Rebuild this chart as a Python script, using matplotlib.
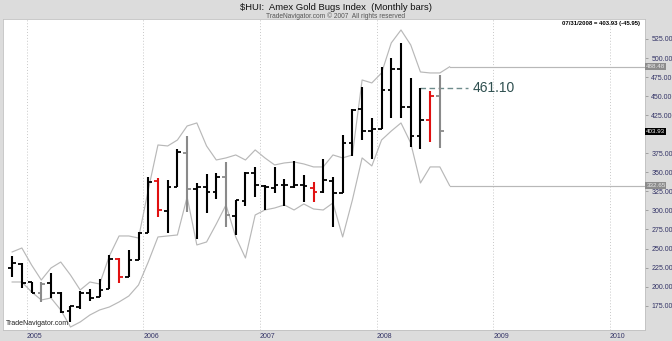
import matplotlib
matplotlib.use('Agg')
import matplotlib.pyplot as plt
import matplotlib.transforms as mtransforms
import numpy as np

# monthly OHLC, Nov 2004 .. Jul 2008
opens = [224.5, 229.7, 206.1, 192.0, 205.2, 192.1, 168.0, 173.7, 191.3, 186.8, 196.5, 235.9, 212.3, 235.0,
         270.0, 339.0, 299.7, 330.4, 375.0, 327.8, 331.2, 324.6, 344.3, 292.7, 312.8, 349.5, 332.1, 329.1,
         333.4, 331.2, 333.4, 329.1, 324.6, 339.0, 322.5, 388.9, 432.7, 404.6, 406.5, 458.1, 485.2, 436.1,
         397.7, 418.7, 449.88]
highs = [240.2, 231.0, 206.1, 206.5, 218.3, 193.4, 174.6, 194.7, 196.5, 209.6, 241.5, 237.2, 248.1, 272.1,
         344.3, 342.2, 340.0, 380.6, 397.7, 336.4, 347.8, 349.5, 364.0, 313.7, 350.8, 356.6, 333.4, 357.4,
         340.9, 364.9, 346.5, 337.7, 367.1, 343.5, 399.0, 433.1, 461.6, 420.9, 488.6, 499.7, 520.1, 473.4,
         461.10, 457.1, 477.7]
lows = [212.7, 198.2, 191.7, 180.2, 185.1, 165.0, 154.0, 170.7, 181.6, 186.8, 196.5, 205.2, 212.3, 235.0,
        270.0, 291.0, 270.8, 330.4, 298.4, 262.1, 297.0, 314.6, 277.9, 267.8, 305.8, 318.0, 300.6, 322.5,
        305.8, 329.1, 311.5, 311.5, 323.3, 277.9, 322.5, 371.5, 392.4, 367.1, 406.5, 420.9, 420.9, 383.7,
        380.2, 390.2, 381.6]
closes = [231.0, 204.8, 191.7, 204.0, 192.1, 167.1, 174.6, 192.1, 185.1, 195.6, 235.9, 212.3, 235.0, 270.8,
          337.7, 300.6, 331.2, 376.3, 327.8, 331.2, 324.6, 344.3, 294.0, 313.7, 349.5, 333.4, 331.2, 333.4,
          333.4, 333.4, 332.1, 324.6, 340.0, 322.5, 388.9, 431.8, 404.6, 406.5, 458.1, 485.2, 436.1, 397.7,
          418.7, 449.88, 403.93]
bar_colors = ['k'] * len(closes)
for i in (3, 18, 22, 44):
    bar_colors[i] = '#8a8a8a'
for i in (11, 15, 31, 43):
    bar_colors[i] = '#e01010'

# envelope, one point more than the bars (projected month)
upper = [245.5, 250.7, 228.4, 208.7, 224.5, 232.3, 215.3, 195.6, 206.1, 203.5, 240.2, 266.5, 266.5, 263.8,
         326.8, 385.9, 384.6, 392.4, 410.8, 414.8, 384.6, 366.2, 368.9, 372.8, 366.2, 379.4, 368.9, 359.7,
         362.3, 363.6, 361.0, 357.1, 357.1, 372.8, 368.9, 372.8, 471.2, 467.3, 480.4, 519.8, 536.8, 517.2,
         481.7, 480.4, 480.4, 488.48]
lower = [206.1, 206.1, 193.0, 182.5, 185.1, 169.4, 147.0, 153.6, 162.8, 169.4, 173.3, 179.9, 187.7, 202.2,
         232.3, 265.2, 266.5, 267.8, 317.6, 254.7, 258.6, 282.2, 307.2, 265.2, 237.6, 294.0, 300.6, 303.2,
         307.2, 300.6, 308.5, 301.9, 300.6, 309.8, 265.2, 313.7, 368.9, 358.4, 392.4, 404.2, 414.8, 388.5,
         336.0, 357.1, 357.1, 332.65]

years = ['2005', '2006', '2007', '2008', '2009', '2010']
price_ticks = np.arange(175, 526, 25)
marked_level = 461.10

plt.rcParams['font.family'] = ['Liberation Sans', 'DejaVu Sans']

fig = plt.figure(figsize=(6.72, 3.41), dpi=100, facecolor='#dcdcdc')
ax = fig.add_axes([3 / 672, 11 / 341, 642 / 672, 311 / 341])
ax.set_facecolor('white')

x_left, x_right = -2.44, 63.6
bar_x = np.arange(len(closes)) - 1.5
env_x = np.arange(len(upper)) - 1.5

# year grid
for k in range(len(years)):
    ax.axvline(12 * k, color='#c8c8c8', lw=0.7, ls=(0, (1, 2)), zorder=0)

# envelope
env_style = dict(color='#b8b8b8', lw=0.85, zorder=1)
ax.plot(env_x, upper, **env_style)
ax.plot(env_x, lower, **env_style)
ax.plot([env_x[-1], x_right], [upper[-1], upper[-1]], **env_style)
ax.plot([env_x[-1], x_right], [lower[-1], lower[-1]], **env_style)

# OHLC bars
tick = 0.38
ax.vlines(bar_x, lows, highs, colors=bar_colors, lw=1.5, zorder=3)
ax.hlines(opens, bar_x - tick, bar_x, colors=bar_colors, lw=1.3, zorder=3)
ax.hlines(closes, bar_x, bar_x + tick, colors=bar_colors, lw=1.3, zorder=3)

# marked level
ax.plot([bar_x[42], 45.4], [marked_level, marked_level], color='#6f8c8c', lw=1, ls=(0, (4, 2.5)), zorder=2)
ax.text(45.9, marked_level, f'{marked_level:.2f}', color='#2f5050', fontsize=10, va='center', ha='left')

ax.set_xlim(x_left, x_right)
ax.set_ylim(143.1, 551.2)

ax.set_xticks([12 * k for k in range(len(years))])
ax.set_xticklabels(years)
for lbl in ax.get_xticklabels():
    lbl.set_ha('left')
ax.tick_params(axis='x', length=0, pad=2.5, labelsize=5, labelcolor='#333366')

# the 400.00 label sits under the last-close box, as in the original
ax.yaxis.tick_right()
ax.set_yticks(price_ticks)
ax.set_yticklabels(['' if v == 400 else f'{v:.2f}' for v in price_ticks])
ax.tick_params(axis='y', length=2, width=0.5, color='#888888', pad=2.5, labelsize=5, labelcolor='#333366')

for s in ax.spines.values():
    s.set_color('#c0c0c0')
    s.set_linewidth(0.6)

# value boxes on the price axis
trans = mtransforms.blended_transform_factory(ax.transAxes, ax.transData)
ax.text(1.002, upper[-1], f'{upper[-1]:.2f}', transform=trans, fontsize=4.5, color='#e8e8e8',
        va='center', ha='left', bbox=dict(boxstyle='square,pad=0.15', fc='#8c8c8c', ec='none'))
ax.text(1.002, lower[-1], f'{lower[-1]:.2f}', transform=trans, fontsize=4.5, color='#e8e8e8',
        va='center', ha='left', bbox=dict(boxstyle='square,pad=0.15', fc='#8c8c8c', ec='none'))
ax.text(1.002, closes[-1], f'{closes[-1]:.2f}', transform=trans, fontsize=4.5, color='white',
        va='center', ha='left', bbox=dict(boxstyle='square,pad=0.15', fc='black', ec='none'))

ax.text(0.004, 0.01, 'TradeNavigator.com', transform=ax.transAxes, fontsize=5, color='#222222',
        ha='left', va='bottom')

# header
fig.text(0.5, 1 - 8 / 341, '$HUI:  Amex Gold Bugs Index  (Monthly bars)', ha='center', va='center',
         fontsize=6.8, color='#111111')
fig.text(0.5, 1 - 16 / 341, 'TradeNavigator.com \u00a9 2007  All rights reserved', ha='center', va='center',
         fontsize=4.8, color='#555555')
change = closes[-1] - closes[-2]
fig.text(640 / 672, 1 - 23.5 / 341, f'07/31/2008 = {closes[-1]:.2f} ({change:.2f})', ha='right', va='center',
         fontsize=4.3, fontweight='bold', color='black')

fig.savefig('out.png', dpi=100, facecolor=fig.get_facecolor())
